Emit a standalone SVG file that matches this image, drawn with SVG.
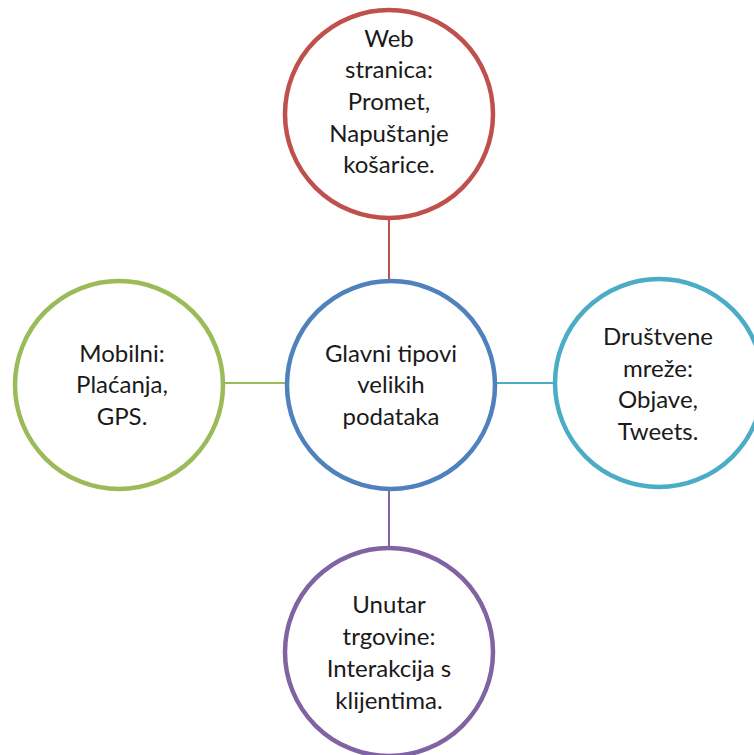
<svg xmlns="http://www.w3.org/2000/svg" width="754" height="755" viewBox="0 0 754 755">
<style>
.n{fill:#fff;stroke-width:4.5}
.t{font-family:Lato,"Liberation Sans",sans-serif;font-size:24px;fill:#1a1a1a;text-anchor:middle}
.c{stroke-width:2;fill:none}
</style>
<rect width="754" height="755" fill="#fff"/>
<g id="connectors">
<line class="c" x1="389" y1="218" x2="389" y2="281" stroke="#C0504D"/>
<line class="c" x1="389" y1="489" x2="389" y2="549" stroke="#8064A2"/>
<line class="c" x1="223" y1="383" x2="286" y2="383" stroke="#9BBB59"/>
<line class="c" x1="496" y1="383" x2="555" y2="383" stroke="#4BACC6"/>
</g>
<g id="center">
<circle class="n" cx="391" cy="385" r="104" stroke="#4F81BD"/>
<text class="t" x="391" y="362">Glavni tipovi</text>
<text class="t" x="391" y="393">velikih</text>
<text class="t" x="391" y="425">podataka</text>
</g>
<g id="web">
<circle class="n" cx="389" cy="114" r="104" stroke="#C0504D"/>
<text class="t" x="389" y="47">Web</text>
<text class="t" x="389" y="78">stranica:</text>
<text class="t" x="389" y="110">Promet,</text>
<text class="t" x="389" y="142">Napuštanje</text>
<text class="t" x="389" y="173">košarice.</text>
</g>
<g id="mobilni">
<circle class="n" cx="119" cy="385" r="104" stroke="#9BBB59"/>
<text class="t" x="122" y="362">Mobilni:</text>
<text class="t" x="122" y="393">Plaćanja,</text>
<text class="t" x="122" y="425">GPS.</text>
</g>
<g id="drustvene">
<circle class="n" cx="659" cy="383" r="104" stroke="#4BACC6"/>
<text class="t" x="658" y="345">Društvene</text>
<text class="t" x="658" y="377">mreže:</text>
<text class="t" x="658" y="408">Objave,</text>
<text class="t" x="658" y="440">Tweets.</text>
</g>
<g id="trgovina">
<circle class="n" cx="389" cy="652" r="104" stroke="#8064A2"/>
<text class="t" x="389" y="613">Unutar</text>
<text class="t" x="389" y="645">trgovine:</text>
<text class="t" x="389" y="677">Interakcija s</text>
<text class="t" x="389" y="709">klijentima.</text>
</g>
</svg>
